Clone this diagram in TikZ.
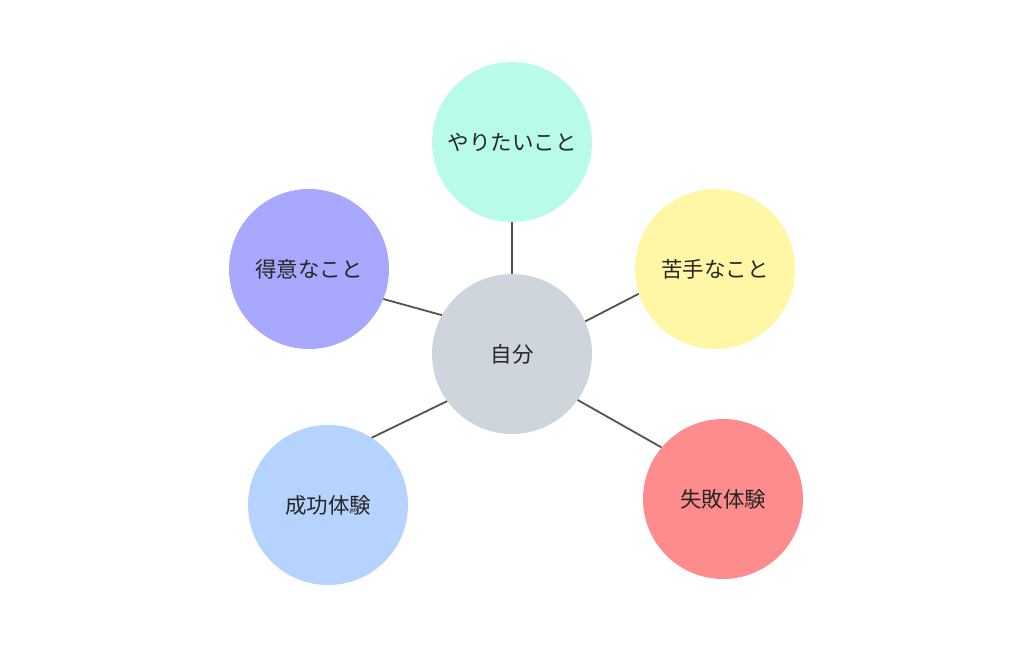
\documentclass[tikz,border=0pt]{standalone}
\usepackage{fontspec}
\newfontfamily\cjk{Noto Sans CJK JP}
\begin{document}
\begin{tikzpicture}[x=1pt,y=-1pt,
  bubble/.style={circle,minimum size=160pt,inner sep=0pt,font=\cjk\fontsize{21.5pt}{24pt}\selectfont,text=black!85},
  link/.style={draw=black!68,line width=1.8pt}]
\useasboundingbox (0,0) rectangle (1022,663);
\definecolor{cgray}{HTML}{CFD5DC}
\definecolor{cteal}{HTML}{B9FBEB}
\definecolor{cyellow}{HTML}{FFF7A5}
\definecolor{cred}{HTML}{FF8C8C}
\definecolor{cblue}{HTML}{B5D3FC}
\definecolor{cpurple}{HTML}{A8A8FE}
\node[bubble,fill=cgray] (self) at (512,354) {自分};
\node[bubble,fill=cteal] (want) at (512,142) {やりたいこと};
\node[bubble,fill=cyellow] (weak) at (715,269) {苦手なこと};
\node[bubble,fill=cred] (fail) at (723,499) {失敗体験};
\node[bubble,fill=cblue] (succ) at (328,505) {成功体験};
\node[bubble,fill=cpurple] (good) at (309,269) {得意なこと};
\draw[link] (self.north) -- (want.south);
\draw[link] (self.24) -- (weak.198);
\draw[link] (self.-35) -- (fail.140);
\draw[link] (self.216) -- (succ.57);
\draw[link] (self.151) -- (good.-22);
\end{tikzpicture}
\end{document}
